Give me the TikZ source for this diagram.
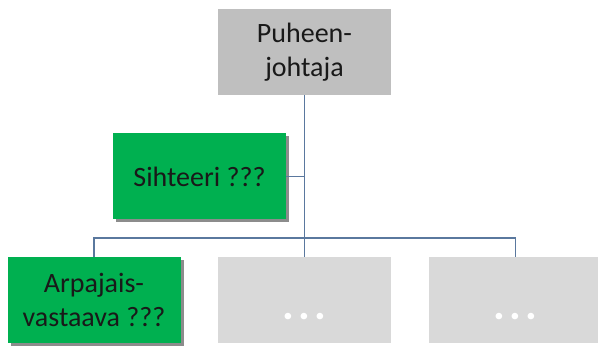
\documentclass[tikz,border=0pt]{standalone}
\usepackage{fontspec}
\setmainfont{Carlito}
\usetikzlibrary{shadows}
\definecolor{boxgreen}{RGB}{0,176,80}
\definecolor{headgray}{RGB}{191,191,191}
\definecolor{emptygray}{RGB}{217,217,217}
\definecolor{linkblue}{RGB}{90,120,158}
\tikzset{
  orgbox/.style={minimum width=173pt, minimum height=86pt, inner sep=2pt, align=center,
    font=\fontsize{28}{34}\selectfont, text=black!90},
  greenbox/.style={orgbox, fill=boxgreen,
    drop shadow={shadow xshift=3pt, shadow yshift=-3pt, fill=black, opacity=0.45}},
  emptybox/.style={orgbox, fill=emptygray, text=white, text height=40pt, text depth=0pt,
    font=\fontsize{44}{44}\selectfont\bfseries},
  link/.style={draw=linkblue, line width=1.2pt}
}
\begin{document}
\begin{tikzpicture}[x=1pt, y=-1pt]
      \useasboundingbox (0,0) rectangle (598,347);
      \clip (0,0) rectangle (598,347);
      \node[orgbox, fill=headgray] (chair) at (304.5,52) {Puheen-\\johtaja};
      \node[greenbox] (secretary) at (199.5,176.5) {Sihteeri ???};
      \node[greenbox] (lottery) at (94,300) {Arpajais-\\vastaava ???};
      \node[emptybox] (emptyA) at (304.5,300) {.\hspace{4pt}.\hspace{4pt}.};
      \node[emptybox] (emptyB) at (515.5,300) {.\hspace{4pt}.\hspace{4pt}.};
      \coordinate (bus) at (304.5,238);
      \draw[link] (chair.south) -- (emptyA.north);
      \draw[link] (secretary.east) -- (secretary.east -| chair.south);
      \draw[link] (lottery.north) |- (bus) -| (emptyB.north);
    \end{tikzpicture}
\end{document}
